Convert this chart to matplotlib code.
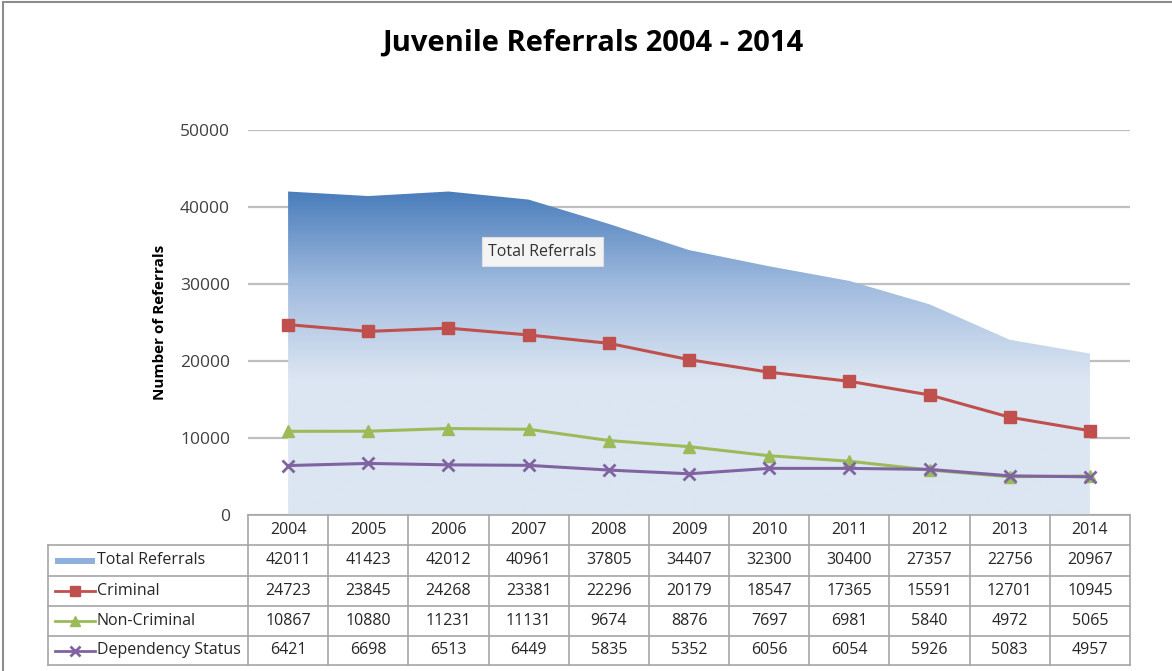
import numpy as np
import matplotlib
matplotlib.use("Agg")
import matplotlib.pyplot as plt
from matplotlib.colors import LinearSegmentedColormap
from matplotlib.lines import Line2D
from matplotlib.patches import Rectangle

years = ["2004", "2005", "2006", "2007", "2008", "2009", "2010", "2011", "2012", "2013", "2014"]
total_referrals = [42011, 41423, 42012, 40961, 37805, 34407, 32300, 30400, 27357, 22756, 20967]
criminal = [24723, 23845, 24268, 23381, 22296, 20179, 18547, 17365, 15591, 12701, 10945]
non_criminal = [10867, 10880, 11231, 11131, 9674, 8876, 7697, 6981, 5840, 4972, 5065]
dependency = [6421, 6698, 6513, 6449, 5835, 5352, 6056, 6054, 5926, 5083, 4957]

series_names = ["Total Referrals", "Criminal", "Non-Criminal", "Dependency Status"]
series_values = [total_referrals, criminal, non_criminal, dependency]

FONT = ["Open Sans", "DejaVu Sans"]
plt.rcParams["font.family"] = FONT

W, H = 1172, 671
fig = plt.figure(figsize=(W / 100, H / 100), dpi=100)

# pixel helpers
def fx(px):
    return px / W

def fy(py):
    return 1 - py / H

ax_l, ax_r, ax_t, ax_b = 248, 1130, 130, 515
ax = fig.add_axes([fx(ax_l), fy(ax_b), fx(ax_r) - fx(ax_l), fy(ax_t) - fy(ax_b)])

x = np.arange(len(years))
ax.set_xlim(-0.5, len(years) - 0.5)
ax.set_ylim(0, 50000)

# horizontal gridlines
ax.set_yticks(np.arange(0, 50001, 10000))
ax.yaxis.grid(True, color="#BFBFBF", linewidth=1.6, zorder=0)
ax.set_axisbelow(True)
for s in ax.spines.values():
    s.set_visible(False)
ax.tick_params(axis="y", length=0, pad=13, labelsize=12.5, labelcolor="#404040")
ax.tick_params(axis="x", length=0, labelbottom=False)
ax.set_ylabel("Number of Referrals", fontsize=11, fontweight="bold")
ax.yaxis.set_label_coords((167 - ax_l) / (ax_r - ax_l), 0.5)

# gradient-filled area for total referrals
poly = ax.fill_between(x, 0, total_referrals, color="none", zorder=1)
light = "#DCE6F2"
dark = "#4A7DBB"
ymax = max(total_referrals)
cmap = LinearSegmentedColormap.from_list(
    "area", [(0.0, light), (0.42, light), (0.70, "#A3BDE0"), (1.0, dark)])
grad = np.linspace(0, 1, 512).reshape(-1, 1)
img = ax.imshow(grad, extent=[x[0], x[-1], 0, ymax], origin="lower",
                aspect="auto", cmap=cmap, zorder=1)
img.set_clip_path(poly.get_paths()[0], transform=ax.transData)

# line series
ax.plot(x, criminal, color="#C0504D", lw=2.2, marker="s", ms=8, zorder=3)
ax.plot(x, non_criminal, color="#9BBB59", lw=2.2, marker="^", ms=8, zorder=3)
ax.plot(x, dependency, color="#8064A2", lw=2.2, marker="x", ms=8, mew=2, zorder=4)

# data label on the area
ax.text(3.17, 34200, "Total Referrals", fontsize=11.5, ha="center", va="center", color="#333333",
        bbox=dict(boxstyle="square,pad=0.4", fc="#F4F4F4", ec="#E0E0E0", lw=0.8), zorder=5)

# title
fig.text(fx(593), fy(43), "Juvenile Referrals 2004 - 2014", fontsize=21, fontweight="bold",
         ha="center", va="center", color="black")

# outer chart border
fig.add_artist(Rectangle((fx(3), fy(H + 20)), 1.2, fy(2) - fy(H + 20), transform=fig.transFigure,
                         fill=False, ec="#8C8C8C", lw=1.5))

# data table below the plot
grid_col = "#A6A6A6"
col_w = (ax_r - ax_l) / len(years)
row_edges = [515, 545, 576, 606, 636, 665]
lab_l = 48

def hline(y, x0, x1):
    fig.add_artist(Line2D([fx(x0), fx(x1)], [fy(y), fy(y)], color=grid_col, lw=1.2))

def vline(xp, y0, y1):
    fig.add_artist(Line2D([fx(xp), fx(xp)], [fy(y0), fy(y1)], color=grid_col, lw=1.2))

hline(row_edges[0], ax_l, ax_r)
for r in row_edges[1:]:
    hline(r, lab_l, ax_r)
vline(lab_l, row_edges[1], row_edges[-1])
for i in range(len(years) + 1):
    vline(ax_l + i * col_w, row_edges[0], row_edges[-1])

for i, yr in enumerate(years):
    cx = ax_l + (i + 0.5) * col_w
    fig.text(fx(cx), fy((row_edges[0] + row_edges[1]) / 2), yr, fontsize=11.5,
             ha="center", va="center", color="#262626")

key_styles = [
    None,
    dict(color="#C0504D", marker="s"),
    dict(color="#9BBB59", marker="^"),
    dict(color="#8064A2", marker="x"),
]
for r, (name, vals, ks) in enumerate(zip(series_names, series_values, key_styles)):
    cy = (row_edges[r + 1] + row_edges[r + 2]) / 2
    if ks is None:
        fig.add_artist(Rectangle((fx(55), fy(cy + 3)), fx(95) - fx(55), fy(cy - 3) - fy(cy + 3),
                                 transform=fig.transFigure, fc="#8FB0DC", ec="none"))
    else:
        fig.add_artist(Line2D([fx(55), fx(95)], [fy(cy), fy(cy)], color=ks["color"], lw=2))
        fig.add_artist(Line2D([fx(75)], [fy(cy)], color=ks["color"], marker=ks["marker"],
                              ms=7, mew=2 if ks["marker"] == "x" else 1))
    fig.text(fx(97), fy(cy), name, fontsize=11.5, ha="left", va="center", color="#262626")
    for i, v in enumerate(vals):
        cx = ax_l + (i + 0.5) * col_w
        fig.text(fx(cx), fy(cy), str(v), fontsize=11.5, ha="center", va="center", color="#262626")

fig.savefig("out.png", dpi=100, facecolor="white")
